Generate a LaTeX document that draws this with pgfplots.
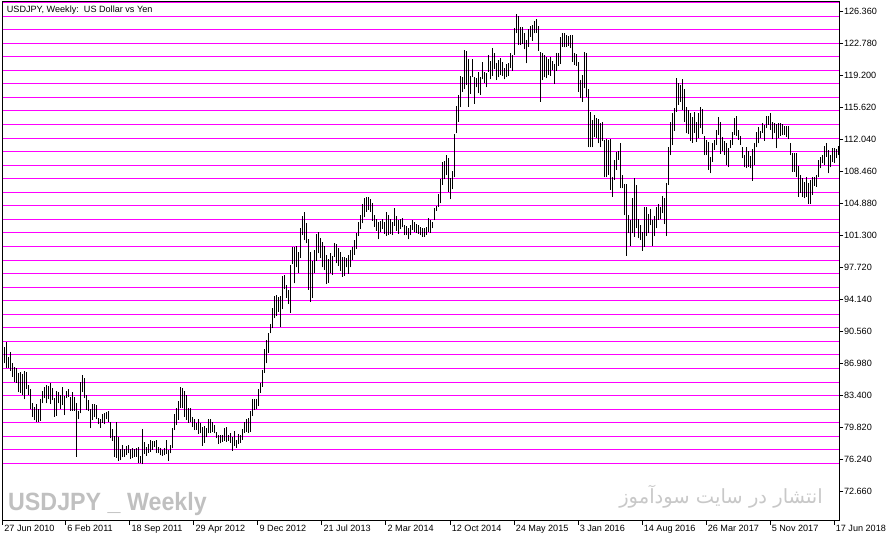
\documentclass[border=0pt]{standalone}
\usepackage{fontspec}
\setmainfont{Liberation Sans}
\newfontfamily\arabicfont[Script=Arabic]{DejaVu Sans}
\usepackage{graphicx}
\usepackage{pgfplots}
\pgfplotsset{compat=1.18}
\usepackage{pgfplotstable}
\TeXXeTstate=1

\definecolor{wmgray}{RGB}{192,192,192}
\definecolor{fagray}{RGB}{200,200,200}
\definecolor{hline}{RGB}{255,0,255}

% weekly bars: week index, low, high
\pgfplotstableread{
k lo hi
0 86.94 88.81
1 86.38 89.37
2 86.38 87.69
3 86.12 88.17
4 85.45 87.02
5 84.89 86.57
6 84.78 86.38
7 83.73 85.82
8 83.66 86.01
9 83.40 85.71
10 82.91 86.08
11 84.03 86.01
12 83.40 84.52
13 81.80 84.03
14 80.98 82.54
15 80.60 82.09
16 80.42 82.39
17 80.34 81.83
18 80.53 82.95
19 82.47 83.85
20 83.03 84.33
21 82.47 84.52
22 82.91 84.41
23 82.39 84.70
24 82.84 84.22
25 80.98 83.03
26 81.09 83.85
27 82.47 83.77
28 81.83 83.40
29 82.28 84.26
30 81.16 83.29
31 83.03 83.85
32 83.21 84.07
33 81.65 83.21
34 81.65 83.70
35 81.65 83.21
36 76.50 82.54
37 80.68 81.61
38 81.35 84.89
39 83.77 85.64
40 83.03 85.26
41 81.72 83.40
42 81.61 82.84
43 79.67 81.80
44 80.60 82.36
45 80.90 82.39
46 80.68 82.28
47 80.12 80.79
48 79.74 80.68
49 80.30 81.27
50 80.12 81.42
51 80.68 81.54
52 80.34 81.61
53 78.55 80.42
54 78.29 79.60
55 76.50 78.81
56 76.39 80.38
57 76.05 78.66
58 76.13 77.36
59 76.43 77.81
60 76.50 77.36
61 76.69 77.70
62 76.87 77.77
63 76.24 77.36
64 76.39 77.43
65 76.50 77.32
66 76.50 77.51
67 75.76 77.62
68 75.76 76.61
69 75.64 79.60
70 76.80 78.18
71 76.58 77.62
72 76.95 77.88
73 77.06 78.37
74 77.25 78.29
75 77.62 78.25
76 76.95 78.37
77 76.87 77.55
78 76.65 77.43
79 76.58 77.25
80 76.69 77.51
81 76.80 78.37
82 76.05 77.25
83 76.87 77.81
84 77.43 79.67
85 79.48 81.27
86 80.04 81.91
87 80.60 82.73
88 81.91 84.26
89 81.91 84.15
90 80.98 83.88
91 80.60 83.40
92 80.30 81.91
93 80.42 81.91
94 79.86 80.98
95 79.48 80.68
96 79.49 80.23
97 79.04 80.68
98 79.12 80.23
99 77.73 79.86
100 78.07 79.93
101 78.67 79.75
102 79.12 80.68
103 79.19 80.68
104 79.30 80.42
105 79.12 80.05
106 78.56 79.30
107 77.92 78.93
108 78.00 78.93
109 78.18 78.93
110 78.30 79.67
111 78.18 79.86
112 78.30 78.93
113 78.07 79.19
114 77.18 78.74
115 77.70 79.37
116 77.51 78.37
117 77.89 79.04
118 78.07 78.93
119 78.37 79.56
120 79.19 80.42
121 79.30 80.68
122 79.19 80.79
123 79.30 81.65
124 81.05 82.92
125 81.72 82.92
126 81.80 82.92
127 82.17 84.04
128 83.66 84.78
129 84.33 86.20
130 85.90 88.51
131 86.94 89.55
132 88.14 90.30
133 90.30 91.31
134 90.86 93.10
135 91.98 94.48
136 92.24 94.59
137 92.72 94.40
138 90.97 94.48
139 92.98 96.71
140 95.22 96.83
141 94.29 95.71
142 93.58 95.15
143 92.61 97.94
144 98.06 100.00
145 95.89 99.92
146 97.68 100.07
147 97.09 99.44
148 98.69 102.05
149 101.30 103.43
150 100.74 103.91
151 100.37 102.61
152 95.15 100.82
153 93.85 99.44
154 94.22 98.43
155 97.02 99.63
156 98.43 101.42
157 99.25 101.68
158 98.69 100.93
159 97.69 100.56
160 97.39 100.07
161 95.82 99.07
162 95.97 98.58
163 97.02 99.33
164 96.83 98.95
165 98.88 100.45
166 98.13 100.30
167 97.84 99.81
168 97.31 99.44
169 96.64 98.81
170 96.72 98.81
171 97.69 98.70
172 96.94 99.07
173 97.69 99.63
174 98.51 100.00
175 99.07 100.74
176 99.70 101.56
177 101.19 102.80
178 101.94 103.54
179 102.61 104.73
180 103.28 105.40
181 103.91 105.59
182 104.10 105.52
183 103.91 105.29
184 102.91 104.92
185 102.24 103.54
186 101.79 103.06
187 100.82 102.80
188 101.68 102.91
189 101.94 103.06
190 101.42 102.80
191 101.19 103.91
192 101.30 103.54
193 101.42 103.06
194 101.30 102.80
195 102.31 104.29
196 101.79 103.43
197 101.42 102.98
198 101.94 103.06
199 102.16 103.17
200 101.30 102.42
201 101.30 102.31
202 100.82 102.05
203 101.30 102.42
204 101.86 102.98
205 101.68 102.80
206 101.49 102.53
207 101.42 102.42
208 101.30 102.24
209 101.12 102.05
210 101.12 102.05
211 101.30 102.24
212 101.68 103.17
213 101.56 102.98
214 102.05 102.80
215 102.98 104.29
216 104.03 104.55
217 104.47 105.89
218 104.85 107.53
219 106.90 109.51
220 107.53 109.62
221 108.01 110.25
222 106.15 109.88
223 105.29 107.64
224 106.41 108.50
225 107.75 112.60
226 112.68 115.73
227 113.98 116.96
228 115.58 119.09
229 117.34 118.94
230 117.60 122.00
231 118.08 121.92
232 115.66 120.95
233 117.08 119.09
234 118.94 120.95
235 115.96 119.01
236 117.82 118.83
237 117.15 119.57
238 116.96 118.94
239 118.72 120.69
240 118.34 119.57
241 117.82 119.46
242 119.57 121.44
243 118.72 120.80
244 119.09 122.18
245 119.83 121.70
246 118.64 120.58
247 118.94 120.88
248 119.20 121.07
249 119.09 120.69
250 118.72 119.95
251 118.94 120.43
252 119.09 120.58
253 119.95 121.70
254 119.70 121.40
255 121.44 124.42
256 123.86 126.02
257 122.56 125.80
258 122.56 124.61
259 122.67 124.61
260 122.07 123.86
261 120.51 123.12
262 122.37 124.31
263 123.49 124.68
264 123.04 124.80
265 123.86 125.28
266 123.94 125.43
267 121.92 124.68
268 116.22 121.81
269 118.64 121.70
270 118.94 121.44
271 118.83 121.25
272 119.20 120.95
273 119.09 121.25
274 119.76 120.80
275 118.19 120.43
276 119.69 121.70
277 120.21 121.70
278 120.43 123.41
279 122.37 123.86
280 122.30 123.94
281 122.37 123.67
282 122.45 123.56
283 122.18 123.67
284 120.69 123.67
285 120.32 121.70
286 120.21 121.55
287 117.34 120.69
288 116.59 118.64
289 116.22 119.20
290 117.71 121.80
291 116.70 121.70
292 111.11 117.60
293 111.11 115.10
294 111.11 114.17
295 112.30 114.73
296 112.12 114.36
297 111.56 114.24
298 111.11 113.87
299 111.86 113.98
300 107.76 111.93
301 107.76 112.01
302 108.02 111.93
303 106.34 112.01
304 105.59 107.83
305 107.46 109.70
306 108.58 110.63
307 109.70 110.74
308 106.53 111.56
309 106.53 108.02
310 103.54 107.01
311 98.96 107.01
312 101.49 103.54
313 100.07 102.98
314 101.49 105.41
315 101.12 107.64
316 102.05 106.90
317 100.93 103.06
318 100.74 102.42
319 99.55 101.68
320 100.00 104.47
321 101.19 104.47
322 101.49 103.65
323 102.42 104.18
324 100.07 102.98
325 101.19 103.43
326 102.05 104.40
327 102.98 104.77
328 103.06 104.47
329 103.73 105.67
330 102.53 105.41
331 101.19 107.16
332 106.90 111.19
333 110.25 113.98
334 111.37 114.99
335 112.98 115.47
336 115.10 118.83
337 115.85 118.35
338 116.22 118.08
339 115.29 118.72
340 113.98 117.60
341 112.68 115.66
342 112.60 115.29
343 111.86 114.99
344 111.63 114.54
345 112.75 115.10
346 111.75 113.98
347 112.12 114.99
348 113.24 115.66
349 112.60 115.36
350 110.25 112.38
351 110.25 111.93
352 108.58 111.75
353 108.20 110.07
354 109.51 111.56
355 110.81 111.93
356 111.37 113.05
357 112.49 114.47
358 110.37 113.98
359 110.74 112.30
360 110.25 111.86
361 109.14 111.63
362 108.87 111.00
363 111.00 111.93
364 111.37 112.86
365 112.49 114.36
366 112.38 114.62
367 111.93 113.05
368 111.37 112.38
369 109.88 111.19
370 108.87 110.25
371 108.76 111.11
372 108.95 110.74
373 108.76 110.14
374 107.38 110.88
375 109.14 111.56
376 111.11 112.86
377 111.56 113.43
378 112.12 112.98
379 112.75 113.80
380 111.86 113.61
381 113.24 114.62
382 113.61 114.62
383 113.05 114.91
384 112.01 113.98
385 112.68 113.87
386 111.00 113.72
387 112.12 113.87
388 112.38 113.87
389 112.49 113.72
390 112.49 113.50
391 112.30 113.50
392 112.01 113.50
393 110.25 111.56
394 108.39 110.51
395 108.39 110.51
396 107.83 110.51
397 105.59 109.02
398 106.04 108.02
399 105.59 107.64
400 105.41 107.27
401 105.59 107.76
402 104.77 107.08
403 104.77 107.46
404 105.78 107.76
405 106.79 107.83
406 106.71 108.02
407 107.76 109.70
408 108.76 110.07
409 109.32 110.25
410 109.14 111.26
411 110.07 111.56
412 108.20 110.81
413 108.87 110.25
414 109.51 111.00
415 109.32 111.00
416 109.88 110.88
417 110.25 111.26
}\bars

\begin{document}
\begin{tikzpicture}
\begin{axis}[
  at={(0,0)}, anchor=south west,
  scale only axis, width=836.6bp, height=518.7bp,
  xmin=-0.8, xmax=417.5, ymin=69.34, ymax=127.37,
  axis line style={black, line width=1bp},
  tick align=outside,
  xtick pos=left, ytick pos=right, yticklabel pos=right,
  tick style={black, line width=1bp},
  major tick length=4bp,
  xtick={-0.8,30.7,62.8,94.8,126.8,158.8,190.8,222.9,254.9,286.9,318.9,350.9,382.9,414.9},
  xticklabels={27 Jun 2010,6 Feb 2011,18 Sep 2011,29 Apr 2012,9 Dec 2012,21 Jul 2013,2 Mar 2014,12 Oct 2014,24 May 2015,3 Jan 2016,14 Aug 2016,26 Mar 2017,5 Nov 2017,17 Jun 2018},
  ytick={72.66,76.24,79.82,83.4,86.98,90.56,94.14,97.72,101.3,104.88,108.46,112.04,115.62,119.2,122.78,126.36},
  /pgf/number format/assume math mode=true,
  yticklabel style={/pgf/number format/fixed, /pgf/number format/fixed zerofill, /pgf/number format/precision=3},
  ticklabel style={font=\fontsize{9.1bp}{10bp}\selectfont, inner sep=0.5bp},
  xticklabel style={anchor=north west, xshift=1bp},
  yticklabel style={anchor=west},
  extra y ticks={75.76,77.276,78.792,80.308,81.824,83.34,84.856,86.372,87.888,89.404,90.92,92.436,93.952,95.468,96.984,98.5,100.016,101.532,103.048,104.564,106.08,107.596,109.112,110.628,112.144,113.66,115.176,116.692,118.208,119.724,121.24,122.756,124.272,125.788,127.304},
  extra y tick labels={},
  extra y tick style={grid=major, major grid style={hline, line width=1bp}, major tick length=0pt},
]
\addplot[draw=none, mark=none,
  error bars/.cd, y dir=plus, y explicit, error mark=none,
  error bar style={draw=black, line width=1.1bp}]
  table[x=k, y=lo, y error plus expr=\thisrow{hi}-\thisrow{lo}] {\bars};

\node[anchor=north west, inner sep=0, font=\fontsize{9.1bp}{10bp}\selectfont]
  at (rel axis cs:0,1) [xshift=4bp, yshift=-4bp] {USDJPY, Weekly:\ \ US Dollar vs Yen};
\node[anchor=base west, inner sep=0, text=wmgray, font=\fontsize{25bp}{26bp}\selectfont\bfseries]
  at (rel axis cs:0,0) [xshift=5.3bp, yshift=10.7bp] {\scalebox{0.93}[1]{USDJPY \_ Weekly}};
\node[anchor=base east, inner sep=0, text=fagray, font=\arabicfont\fontsize{19.5bp}{22bp}\selectfont]
  at (rel axis cs:0,0) [xshift=820.3bp, yshift=17.2bp] {\beginR انتشار در سایت سودآموز\endR};
\end{axis}
\pgfresetboundingbox
\useasboundingbox (-2.7bp,-22.3bp) rectangle (889.3bp,520.7bp);
\end{tikzpicture}
\end{document}
